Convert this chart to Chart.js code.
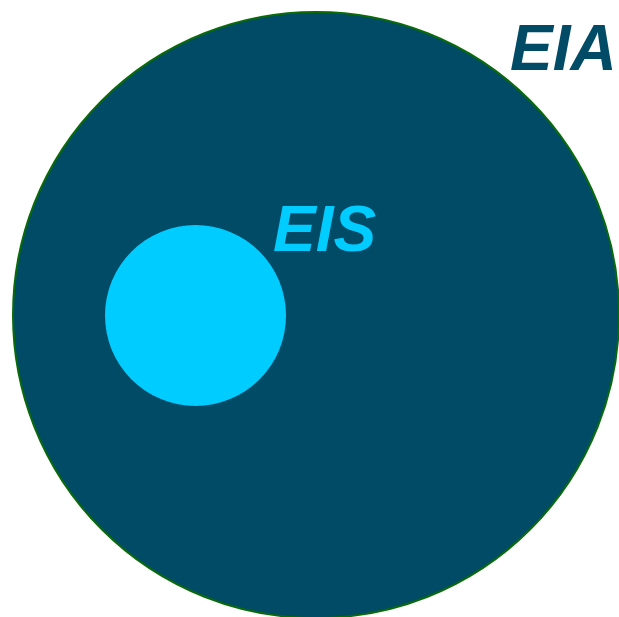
<!DOCTYPE html>
<html>
<head>
<meta charset="utf-8">
<script src="https://cdn.jsdelivr.net/npm/chart.js@4.4.1/dist/chart.umd.min.js"></script>
<style>
  html, body { margin: 0; padding: 0; background: #fff; }
  #wrap { width: 619px; height: 617px; position: relative; }
</style>
</head>
<body>
<div id="wrap"><canvas id="venn"></canvas></div>
<script>
// sets and their circles (x/y/r in plot units, y counted from the top)
const setNames = ['EIA', 'EIS'];
const centerX = [316, 195.5];
const centerY = [315, 315.5];
const radii = [303, 90.5];
const fillColors = ['#014b67', '#00ccff'];
const edgeColors = ['#0a6a0a', '#00ccff'];
const edgeWidths = [2, 0];

// where the set names sit (left edge / baseline)
const labelX = [510, 273];
const labelY = [70, 251];
const labelColors = ['#014b67', '#00ccff'];

const setLabels = {
  id: 'setLabels',
  afterDatasetsDraw(chart) {
    const { ctx, scales } = chart;
    ctx.save();
    ctx.font = 'italic bold 64px "Liberation Sans", Arial, sans-serif';
    ctx.textAlign = 'left';
    ctx.textBaseline = 'alphabetic';
    setNames.forEach((name, i) => {
      ctx.fillStyle = labelColors[i];
      ctx.fillText(name, scales.x.getPixelForValue(labelX[i]), scales.y.getPixelForValue(labelY[i]));
    });
    ctx.restore();
  }
};

const points = setNames.map((name, i) => ({ x: centerX[i], y: centerY[i] }));

new Chart(document.getElementById('venn'), {
  type: 'scatter',
  data: {
    datasets: [{
      label: 'sets',
      data: points,
      showLine: false,
      pointStyle: 'circle',
      pointBackgroundColor: fillColors,
      pointBorderColor: edgeColors,
      pointBorderWidth: edgeWidths,
      pointRadius: (c) => {
        const s = c.chart.scales.x;
        return s.getPixelForValue(radii[c.dataIndex]) - s.getPixelForValue(0);
      },
      clip: false
    }]
  },
  options: {
    responsive: true,
    maintainAspectRatio: false,
    animation: false,
    events: [],
    layout: { padding: 0 },
    plugins: { legend: { display: false }, tooltip: { enabled: false } },
    scales: {
      x: { type: 'linear', min: 0, max: 619, display: false },
      y: { type: 'linear', min: 0, max: 617, reverse: true, display: false }
    }
  },
  plugins: [setLabels]
});
</script>
</body>
</html>
